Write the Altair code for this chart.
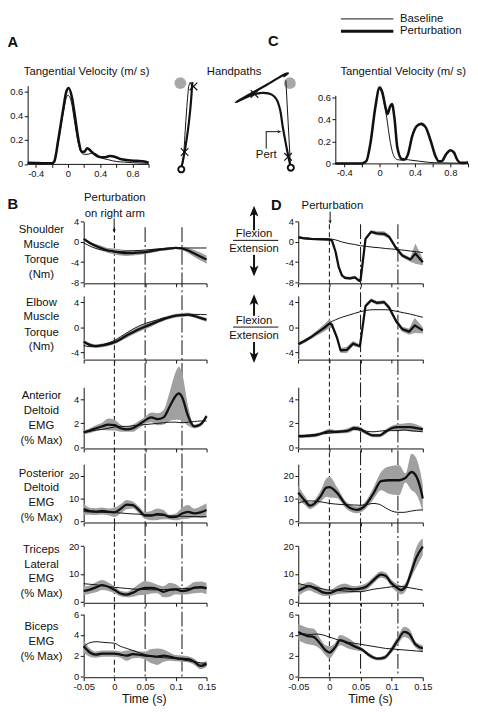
import altair as alt
import pandas as pd

FONT = "Liberation Sans"
INK = "#111111"
BAND = "#a0a0a0"
TARGET = "#a8a8a8"

# ---------------- tangential velocity (m/s) ----------------
VA_T_BASE = [-0.5, -0.2, -0.17, -0.12, -0.06, -0.02, 0.0, 0.04, 0.08, 0.12, 0.16, 0.2, 0.25, 0.3, 0.34, 0.4, 0.5, 0.6, 0.7, 0.8, 1.0]
VA_BASE = [0.005, 0.005, 0.02, 0.18, 0.42, 0.55, 0.57, 0.52, 0.36, 0.2, 0.1, 0.08, 0.08, 0.09, 0.085, 0.055, 0.035, 0.02, 0.015, 0.01, 0.005]
VA_T_PERT = [-0.5, -0.4, -0.3, -0.2, -0.17, -0.12, -0.06, -0.02, 0.01, 0.05, 0.09, 0.13, 0.17, 0.2, 0.24, 0.28, 0.33, 0.38, 0.45, 0.52, 0.58, 0.65, 0.75, 0.85, 0.95, 1.0]
VA_PERT = [0.01, 0.008, 0.005, 0.005, 0.02, 0.2, 0.45, 0.6, 0.63, 0.55, 0.38, 0.2, 0.1, 0.1, 0.13, 0.11, 0.08, 0.06, 0.055, 0.065, 0.06, 0.04, 0.03, 0.025, 0.02, 0.01]

VC_T_BASE = [-0.5, -0.2, -0.15, -0.1, -0.05, 0.0, 0.04, 0.08, 0.12, 0.16, 0.2, 0.25, 0.3, 0.35, 0.45, 0.55, 0.7, 1.0]
VC_BASE = [0.0, 0.0, 0.02, 0.2, 0.5, 0.68, 0.6, 0.42, 0.2, 0.07, 0.035, 0.03, 0.035, 0.03, 0.02, 0.01, 0.005, 0.0]
VC_T_PERT = [-0.5, -0.2, -0.15, -0.1, -0.05, 0.0, 0.03, 0.07, 0.09, 0.12, 0.14, 0.17, 0.2, 0.25, 0.28, 0.32, 0.37, 0.42, 0.47, 0.52, 0.58, 0.63, 0.67, 0.7, 0.75, 0.8, 0.84, 0.88, 0.92, 0.96, 1.0]
VC_PERT = [0.0, 0.0, 0.02, 0.2, 0.5, 0.69, 0.65, 0.5, 0.45, 0.52, 0.54, 0.4, 0.15, 0.04, 0.035, 0.08, 0.25, 0.34, 0.36, 0.33, 0.2, 0.07, 0.02, 0.02, 0.08, 0.12, 0.1, 0.03, 0.005, 0.005, 0.01]

# ---------------- hand paths (cm, start = origin) ----------------
HA_BASE_X = [0.05, 0.16, 0.31, 0.45, 0.61, 0.76, 0.91, 1.14]
HA_BASE_Y = [0.3, 0.68, 2.2, 4.47, 6.74, 8.64, 9.77, 10.08]
HA_PERT_X = [0.03, 0.08, 0.38, 0.76, 1.02, 1.18, 1.25, 1.3]
HA_PERT_Y = [0.3, 0.49, 2.0, 4.47, 6.74, 8.64, 9.77, 10.08]
HA_MARK_X = [0.38, 1.41]
HA_MARK_Y = [2.0, 9.58]
HA_TARGET = [-0.11, 9.97]

HC_BASE_X = [-0.05, -0.57]
HC_BASE_Y = [0.4, 10.1]
HC_PERT_X = [-0.05, -0.11, -0.31, -0.68, -0.95, -1.25, -1.64, -2.2, -3.15, -4.09, -5.05, -6.36, -4.66, -2.77, -0.68, -0.31, -0.87]
HC_PERT_Y = [0.3, 0.49, 1.43, 3.33, 4.84, 6.74, 7.88, 8.44, 8.64, 8.52, 8.18, 7.57, 8.52, 9.58, 10.8, 10.9, 10.52]
HC_MARK_X = [-0.31, -4.2]
HC_MARK_Y = [1.25, 8.52]
HC_TARGET = [-0.11, 9.77]

# ---------------- torques and EMG (time in s) ----------------
T21 = [-0.05, -0.04, -0.03, -0.02, -0.01, 0.0, 0.01, 0.02, 0.03, 0.04, 0.05,
       0.06, 0.07, 0.08, 0.09, 0.10, 0.11, 0.12, 0.13, 0.14, 0.15]
PERT_T = [0.0]
PHASE_T = [0.05, 0.11]
TIME_TICKS = [-0.05, 0.0, 0.05, 0.1, 0.15]

# B: perturbation on right arm
B_SH_M = [0.6, -0.2, -0.8, -1.3, -1.7, -1.9, -2.1, -2.2, -2.2, -2.1, -2.0, -1.8, -1.6, -1.45, -1.3, -1.2, -1.3, -1.7, -2.3, -2.9, -3.5]
B_SH_W = [0.3, 0.3, 0.4, 0.5, 0.5, 0.6, 0.6, 0.6, 0.5, 0.5, 0.4, 0.4, 0.3, 0.3, 0.3, 0.2, 0.3, 0.5, 0.7, 0.8, 0.8]
B_SH_B = [-0.2, -0.8, -1.3, -1.6, -1.8, -1.9, -1.9, -1.8, -1.75, -1.7, -1.6, -1.5, -1.4, -1.35, -1.3, -1.25, -1.2, -1.2, -1.2, -1.2, -1.2]

B_EL_M = [-2.3, -2.8, -3.0, -2.9, -2.7, -2.4, -1.9, -1.3, -0.8, -0.3, 0.1, 0.5, 0.9, 1.3, 1.6, 1.85, 1.95, 2.0, 1.8, 1.5, 1.2]
B_EL_W = [0.3, 0.3, 0.3, 0.3, 0.3, 0.3, 0.3, 0.4, 0.4, 0.4, 0.4, 0.4, 0.3, 0.3, 0.3, 0.3, 0.3, 0.3, 0.3, 0.3, 0.3]
B_EL_B = [-2.9, -3.1, -3.0, -2.8, -2.5, -2.1, -1.5, -0.9, -0.3, 0.2, 0.6, 0.9, 1.2, 1.5, 1.7, 1.85, 1.95, 2.0, 2.05, 2.05, 2.0]

B_AD_T = [-0.05, -0.04, -0.03, -0.02, -0.01, 0.0, 0.01, 0.02, 0.03, 0.04, 0.05, 0.06, 0.07, 0.08, 0.09, 0.10, 0.105, 0.11, 0.12, 0.13, 0.14, 0.15]
B_AD_M = [1.25, 1.4, 1.6, 1.75, 1.9, 1.85, 1.6, 1.5, 1.6, 1.9, 2.25, 2.5, 2.35, 2.5, 3.4, 4.3, 4.5, 4.2, 2.6, 1.75, 1.9, 2.6]
B_AD_W = [0.15, 0.2, 0.25, 0.3, 0.5, 0.45, 0.3, 0.2, 0.3, 0.3, 0.3, 0.4, 0.5, 0.6, 1.2, 2.0, 2.2, 2.0, 0.8, 0.15, 0.15, 0.15]
B_AD_B = [1.3, 1.35, 1.45, 1.5, 1.6, 1.7, 1.75, 1.75, 1.8, 1.85, 1.9, 1.95, 2.0, 2.05, 2.1, 2.1, 2.05, 2.1, 2.15, 2.2, 2.2]

B_PD_M = [5.4, 4.5, 4.3, 4.6, 4.2, 4.0, 5.5, 7.4, 7.2, 5.0, 2.6, 2.6, 3.2, 3.0, 1.9, 2.0, 3.5, 4.2, 3.6, 4.0, 5.0]
B_PD_W = [2.5, 1.5, 1.5, 1.5, 1.5, 2.0, 2.0, 2.0, 1.5, 1.5, 1.5, 2.0, 2.5, 2.0, 1.0, 1.5, 2.5, 3.0, 2.0, 2.5, 3.0]
B_PD_B = [4.3, 4.2, 4.1, 4.0, 4.0, 3.9, 3.7, 3.5, 3.3, 3.2, 3.0, 2.9, 2.8, 2.7, 2.5, 2.4, 2.3, 2.2, 2.2, 2.1, 2.1]

B_TL_M = [3.9, 4.4, 5.2, 6.0, 5.4, 4.3, 3.0, 2.6, 3.3, 4.4, 5.0, 5.0, 4.6, 3.6, 4.3, 4.5, 3.8, 4.2, 5.1, 5.3, 4.8]
B_TL_W = [1.5, 1.5, 1.8, 1.8, 1.5, 1.2, 1.0, 1.0, 1.5, 2.0, 2.5, 2.0, 1.5, 2.0, 2.5, 1.8, 1.2, 1.5, 2.0, 2.0, 2.0]
B_TL_B = [6.5, 6.3, 6.1, 5.8, 5.5, 5.2, 5.0, 4.8, 4.6, 4.5, 4.4, 4.3, 4.3, 4.4, 4.5, 4.6, 4.7, 4.8, 4.9, 5.0, 5.0]

B_BI_M = [2.9, 2.3, 2.1, 2.2, 2.2, 2.2, 2.1, 2.0, 2.15, 2.1, 2.0, 1.95, 1.9, 2.0, 1.9, 1.75, 1.7, 1.65, 1.4, 1.0, 1.2]
B_BI_W = [0.6, 0.4, 0.3, 0.3, 0.3, 0.3, 0.3, 0.5, 0.4, 0.3, 0.4, 0.7, 0.8, 0.6, 0.4, 0.3, 0.3, 0.3, 0.3, 0.3, 0.3]
B_BI_B = [2.9, 3.25, 3.35, 3.3, 3.25, 3.2, 2.9, 2.7, 2.5, 2.3, 2.1, 1.95, 1.85, 1.8, 1.75, 1.7, 1.6, 1.5, 1.4, 1.3, 1.25]

# D: perturbation
D_SH_T = [-0.05, -0.04, -0.03, -0.02, -0.01, 0.0, 0.004, 0.01, 0.015, 0.02, 0.025, 0.033, 0.041, 0.048, 0.05, 0.058, 0.067, 0.076, 0.088, 0.096, 0.107, 0.117, 0.13, 0.138, 0.15]
D_SH_M = [0.9, 0.7, 0.6, 0.55, 0.5, 0.45, 0.3, -2.0, -5.0, -6.6, -7.1, -7.2, -7.0, -7.7, -7.6, 0.6, 2.0, 1.7, 1.6, 1.0, -1.2, -2.7, -3.5, -2.3, -4.0]
D_SH_W = [0.2, 0.2, 0.2, 0.2, 0.2, 0.2, 0.2, 0.3, 0.3, 0.3, 0.3, 0.3, 0.3, 0.3, 0.3, 0.3, 0.3, 0.4, 0.5, 0.4, 0.4, 0.4, 0.4, 2.0, 0.6]
D_SH_B = [1.0, 0.8, 0.7, 0.65, 0.65, 0.6, 0.4, 0.0, -0.3, -0.5, -0.75, -0.9, -1.05, -1.15, -1.3, -1.4, -1.5, -1.65, -1.8, -1.95, -2.1]

D_EL_T = [-0.05, -0.04, -0.03, -0.02, -0.014, -0.007, 0.0, 0.004, 0.012, 0.018, 0.028, 0.038, 0.046, 0.049, 0.058, 0.067, 0.076, 0.088, 0.096, 0.107, 0.117, 0.128, 0.137, 0.15]
D_EL_M = [-2.7, -2.2, -1.6, -0.9, -0.5, 0.0, 0.6, 0.4, -1.6, -3.7, -3.6, -2.6, -2.9, -3.0, 3.4, 4.3, 3.9, 4.0, 3.1, 1.0, -0.3, -0.7, 0.3, -0.5]
D_EL_W = [0.3, 0.3, 0.3, 0.4, 0.5, 0.6, 0.7, 0.5, 0.4, 0.4, 0.5, 0.4, 0.3, 0.3, 0.3, 0.3, 0.3, 0.3, 0.4, 0.4, 0.4, 0.5, 1.2, 0.5]
D_EL_B = [-2.6, -2.1, -1.6, -0.9, -0.1, 0.7, 1.2, 1.6, 1.9, 2.2, 2.5, 2.7, 2.8, 2.8, 2.8, 2.7, 2.5, 2.3, 2.1, 1.85, 1.6]

D_AD_M = [0.93, 0.95, 0.98, 1.05, 1.2, 1.33, 1.3, 1.33, 1.4, 1.6, 1.5, 1.2, 1.0, 1.0, 1.3, 1.6, 1.7, 1.7, 1.68, 1.6, 1.5]
D_AD_W = [0.15, 0.15, 0.15, 0.15, 0.15, 0.2, 0.15, 0.15, 0.2, 0.2, 0.2, 0.15, 0.15, 0.15, 0.2, 0.2, 0.25, 0.3, 0.35, 0.3, 0.2]
D_AD_B = [1.0, 1.0, 1.05, 1.1, 1.15, 1.2, 1.25, 1.3, 1.4, 1.5, 1.45, 1.35, 1.3, 1.35, 1.4, 1.4, 1.4, 1.45, 1.4, 1.35, 1.3]

D_PD_T = [-0.05, -0.04, -0.031, -0.025, -0.014, -0.005, 0.0, 0.012, 0.028, 0.044, 0.054, 0.07, 0.083, 0.096, 0.112, 0.122, 0.132, 0.138, 0.146, 0.15]
D_PD_M = [12.6, 9.3, 6.9, 7.6, 11.1, 14.8, 15.0, 12.6, 6.9, 5.1, 6.1, 11.9, 17.6, 18.0, 18.0, 19.0, 21.6, 20.4, 14.7, 10.0]
D_PD_W = [3.0, 2.0, 1.5, 1.5, 2.5, 4.0, 4.5, 2.5, 1.5, 1.5, 1.5, 2.5, 4.0, 6.0, 6.5, 2.0, 8.0, 8.0, 7.0, 6.0]
D_PD_B = [8.0, 8.8, 9.0, 8.8, 8.4, 7.9, 7.6, 7.4, 7.3, 7.2, 7.1, 7.4, 7.9, 7.5, 6.0, 4.6, 4.0, 4.0, 4.5, 4.9, 5.1]

D_TL_T = [-0.05, -0.04, -0.033, -0.02, -0.009, 0.0, 0.012, 0.025, 0.038, 0.049, 0.06, 0.07, 0.083, 0.091, 0.099, 0.11, 0.115, 0.123, 0.131, 0.139, 0.15]
D_TL_M = [4.0, 5.1, 5.6, 4.5, 3.3, 3.1, 4.2, 4.8, 4.5, 4.7, 5.6, 7.6, 9.8, 9.2, 6.8, 4.8, 4.2, 5.6, 10.4, 15.6, 19.8]
D_TL_W = [2.0, 1.5, 1.5, 1.5, 1.2, 1.0, 1.5, 1.8, 1.2, 1.2, 1.2, 1.2, 1.2, 1.2, 1.2, 1.5, 1.5, 1.5, 2.0, 3.5, 3.0]
D_TL_B = [6.6, 6.0, 5.6, 5.1, 4.6, 4.2, 4.1, 3.95, 3.8, 3.7, 3.6, 4.0, 4.5, 4.8, 5.1, 5.4, 5.6, 5.4, 5.0, 4.6, 4.2]

D_BI_T = [-0.05, -0.035, -0.025, -0.014, -0.006, 0.0, 0.009, 0.017, 0.03, 0.044, 0.052, 0.065, 0.078, 0.088, 0.099, 0.11, 0.12, 0.128, 0.138, 0.15]
D_BI_M = [4.3, 3.9, 3.8, 3.1, 2.5, 2.3, 2.8, 3.5, 3.2, 2.8, 2.6, 2.0, 1.7, 1.8, 2.5, 3.5, 4.3, 4.1, 3.1, 2.7]
D_BI_W = [0.8, 0.8, 0.8, 0.5, 0.5, 0.6, 0.4, 0.5, 0.5, 0.3, 0.2, 0.2, 0.15, 0.2, 0.3, 0.4, 0.5, 0.5, 0.3, 0.3]
D_BI_B = [4.0, 4.1, 4.05, 4.1, 4.0, 3.8, 3.6, 3.4, 3.3, 3.2, 3.1, 3.0, 2.9, 2.8, 2.7, 2.65, 2.6, 2.55, 2.5, 2.45, 2.4]

ROW_LABELS = [["Shoulder", "Muscle", "Torque", "(Nm)"],
              ["Elbow", "Muscle", "Torque", "(Nm)"],
              ["Anterior", "Deltoid", "EMG", "(% Max)"],
              ["Posterior", "Deltoid", "EMG", "(% Max)"],
              ["Triceps", "Lateral", "EMG", "(% Max)"],
              ["Biceps", "EMG", "(% Max)"]]

# ---------------- layout (reference pixels) ----------------
W, H = 470, 705
OX = OY = 8


def X(v):
    return v - OX


def Y(v):
    return v - OY


ROWS = [
    dict(domain=[-8, 4], ticks=[-8, -4, 0, 4], yb=281, yt=219.3, lab=[227.7, 242.7, 258.3, 273.3]),
    dict(domain=[-5, 5], ticks=[-4, 0, 4], yb=358.6, yt=294.8, lab=[301.7, 316.7, 332.3, 347.3]),
    dict(domain=[0, 5], ticks=[0, 2, 4], yb=449, yt=387.7, lab=[396.7, 411.7, 427.3, 442.3]),
    dict(domain=[0, 25], ticks=[0, 10, 20], yb=524.3, yt=466, lab=[475.7, 490.7, 506, 521]),
    dict(domain=[0, 20], ticks=[0, 10, 20], yb=606, yt=549.3, lab=[553.3, 568.3, 583.3, 598.3]),
    dict(domain=[0, 6], ticks=[0, 2, 4, 6], yb=681.7, yt=618.8, lab=[631.7, 646.7, 661.7]),
]
COL_B = (85, 210)
COL_D = (303.3, 430)

LABEL = "replace(format(datum.value, '~g'), '\u2212', '-')"
ONE = pd.DataFrame({"k": [0]})


def axis_x(ypos, values, labels=True, expr=LABEL):
    return alt.Axis(orient="bottom", offset=Y(ypos) - H, values=values, labels=labels,
                    labelExpr=expr, title=None, tickSize=3.5, labelPadding=1,
                    labelFlush=False, labelOverlap=False)


def axis_y(xpos, values):
    return alt.Axis(orient="left", offset=-X(xpos), values=values, labelExpr=LABEL,
                    title=None, tickSize=3.5, labelPadding=1.5, labelFlush=False, labelOverlap=False)


def time_panel(t, m, w, b, row, col, bottom, interp="monotone"):
    xs = alt.Scale(domain=[-0.05, 0.15], range=[X(col[0]), X(col[1])], nice=False, zero=False)
    ys = alt.Scale(domain=row["domain"], range=[Y(row["yb"]), Y(row["yt"])], nice=False, zero=False)
    ex = alt.X("t:Q", scale=xs, axis=axis_x(row["yb"] + 1, TIME_TICKS, labels=bottom))
    ay = axis_y(col[0], row["ticks"])
    dm = pd.DataFrame({"t": t, "m": m,
                       "lo": [a - c for a, c in zip(m, w)],
                       "hi": [a + c for a, c in zip(m, w)]})
    db = pd.DataFrame({"t": T21, "b": b})
    band = alt.Chart(dm).mark_area(color=BAND, opacity=1, interpolate=interp).encode(
        x=ex, y=alt.Y("lo:Q", scale=ys, axis=ay), y2="hi:Q")
    thin = alt.Chart(db).mark_line(color=INK, strokeWidth=1, interpolate="monotone").encode(
        x=ex, y=alt.Y("b:Q", scale=ys, axis=ay))
    thick = alt.Chart(dm).mark_line(color=INK, strokeWidth=2.3, interpolate=interp,
                                    strokeJoin="round").encode(
        x=ex, y=alt.Y("m:Q", scale=ys, axis=ay))
    return alt.layer(band, thin, thick)


def vel_panel(tb, vb, tp, vp, xr, yr, ydom):
    xs = alt.Scale(domain=[-0.5, 1.0], range=[X(xr[0]), X(xr[1])], nice=False, zero=False)
    ys = alt.Scale(domain=ydom, range=[Y(yr[0]), Y(yr[1])], nice=False, zero=False)
    expr = ("indexof([-0.4, 0, 0.4, 0.8], datum.value) >= 0 ? " + LABEL + " : ''")
    ex = alt.X("t:Q", scale=xs, axis=axis_x(yr[0], [-0.4, -0.2, 0, 0.2, 0.4, 0.6, 0.8, 1.0], expr=expr))
    ay = axis_y(xr[0], [0, 0.2, 0.4, 0.6])
    thin = alt.Chart(pd.DataFrame({"t": tb, "v": vb})).mark_line(
        color=INK, strokeWidth=1, interpolate="monotone").encode(x=ex, y=alt.Y("v:Q", scale=ys, axis=ay))
    thick = alt.Chart(pd.DataFrame({"t": tp, "v": vp})).mark_line(
        color=INK, strokeWidth=2.6, interpolate="monotone").encode(x=ex, y=alt.Y("v:Q", scale=ys, axis=ay))
    return alt.layer(thin, thick)


XSHAPE = "M-1,-1L1,1M-1,1L1,-1"


def handpath(bx, by, px_, py_, mx, my, target, xdom, ydom, xr, yr):
    xs = alt.Scale(domain=xdom, range=[X(xr[0]), X(xr[1])], nice=False, zero=False)
    ys = alt.Scale(domain=ydom, range=[Y(yr[0]), Y(yr[1])], nice=False, zero=False)
    ex = alt.X("x:Q", scale=xs, axis=None)
    ey = alt.Y("y:Q", scale=ys, axis=None)
    tgt = alt.Chart(pd.DataFrame({"x": [target[0]], "y": [target[1]]})).mark_point(
        shape="circle", filled=True, color=TARGET, size=145, opacity=1, strokeWidth=0).encode(x=ex, y=ey)
    thin = alt.Chart(pd.DataFrame({"x": bx, "y": by, "i": list(range(len(bx)))})).mark_line(
        color=INK, strokeWidth=1, interpolate="catmull-rom").encode(x=ex, y=ey, order="i:Q")
    thick = alt.Chart(pd.DataFrame({"x": px_, "y": py_, "i": list(range(len(px_)))})).mark_line(
        color=INK, strokeWidth=2.2, interpolate="catmull-rom", strokeJoin="round").encode(x=ex, y=ey, order="i:Q")
    marks = alt.Chart(pd.DataFrame({"x": mx, "y": my})).mark_point(
        shape=XSHAPE, filled=False, color=INK, size=60, strokeWidth=1.2, opacity=1).encode(x=ex, y=ey)
    start = alt.Chart(pd.DataFrame({"x": [0.0], "y": [0.0]})).mark_point(
        shape="circle", filled=False, color=INK, size=38, strokeWidth=2, opacity=1).encode(x=ex, y=ey)
    return alt.layer(tgt, thin, thick, marks, start)


def vlines(col, y0, y1):
    xs = alt.Scale(domain=[-0.05, 0.15], range=[X(col[0]), X(col[1])], nice=False, zero=False)
    a = alt.Chart(pd.DataFrame({"t": PERT_T})).mark_rule(color="#222222", strokeWidth=1.1, strokeDash=[5, 3]).encode(
        x=alt.X("t:Q", scale=xs, axis=None), y=alt.value(Y(y0)), y2=alt.value(Y(y1)))
    b = alt.Chart(pd.DataFrame({"t": PHASE_T})).mark_rule(color="#222222", strokeWidth=1.1, strokeDash=[15, 3, 2, 3]).encode(
        x=alt.X("t:Q", scale=xs, axis=None), y=alt.value(Y(y0)), y2=alt.value(Y(y1)))
    return [a, b]


def text(s, x, y, size=11.5, weight="normal", align="center"):
    return alt.Chart(ONE).mark_text(text=s, font=FONT, fontSize=size, fontWeight=weight, align=align,
                                    baseline="middle", color=INK).encode(x=alt.value(X(x)), y=alt.value(Y(y)))


def seg(x1, y1, x2, y2, width=1.0):
    return alt.Chart(ONE).mark_rule(color=INK, strokeWidth=width).encode(
        x=alt.value(X(x1)), y=alt.value(Y(y1)), x2=alt.value(X(x2)), y2=alt.value(Y(y2)))


HEAD_UP = "M0,-1L0.75,0.85L0,0.4L-0.75,0.85Z"
HEAD_DOWN = "M0,1L0.75,-0.85L0,-0.4L-0.75,-0.85Z"
HEAD_RIGHT = "M1,0L-0.85,0.75L-0.4,0L-0.85,-0.75Z"


def head(x, y, shape, size):
    return alt.Chart(ONE).mark_point(shape=shape, filled=True, color=INK, size=size, opacity=1,
                                     strokeWidth=0).encode(x=alt.value(X(x)), y=alt.value(Y(y)))


layers = []

# top row
layers.append(vel_panel(VA_T_BASE, VA_BASE, VA_T_PERT, VA_PERT, (28, 151), (160.5, 80.9), [0, 0.65]))
layers.append(vel_panel(VC_T_BASE, VC_BASE, VC_T_PERT, VC_PERT, (341, 476), (160, 90.7), [0, 0.62]))
layers.append(handpath(HA_BASE_X, HA_BASE_Y, HA_PERT_X, HA_PERT_Y, HA_MARK_X, HA_MARK_Y, HA_TARGET,
                       [-2, 2], [0, 11], (166.7, 201.9), (166, 69.2)))
layers.append(handpath(HC_BASE_X, HC_BASE_Y, HC_PERT_X, HC_PERT_Y, HC_MARK_X, HC_MARK_Y, HC_TARGET,
                       [-7, 1], [0, 11], (234.1, 304.5), (164.3, 67.5)))

# dashed event lines
layers += vlines(COL_B, 225, 682)
layers += vlines(COL_D, 222, 682)

# time panels
B_DATA = [(T21, B_SH_M, B_SH_W, B_SH_B), (T21, B_EL_M, B_EL_W, B_EL_B), (B_AD_T, B_AD_M, B_AD_W, B_AD_B),
          (T21, B_PD_M, B_PD_W, B_PD_B), (T21, B_TL_M, B_TL_W, B_TL_B), (T21, B_BI_M, B_BI_W, B_BI_B)]
D_DATA = [(D_SH_T, D_SH_M, D_SH_W, D_SH_B), (D_EL_T, D_EL_M, D_EL_W, D_EL_B), (T21, D_AD_M, D_AD_W, D_AD_B),
          (D_PD_T, D_PD_M, D_PD_W, D_PD_B), (D_TL_T, D_TL_M, D_TL_W, D_TL_B), (D_BI_T, D_BI_M, D_BI_W, D_BI_B)]
for i, row in enumerate(ROWS):
    bottom = i == len(ROWS) - 1
    t, m, w, b = B_DATA[i]
    layers.append(time_panel(t, m, w, b, row, COL_B, bottom))
    t, m, w, b = D_DATA[i]
    layers.append(time_panel(t, m, w, b, row, COL_D, bottom, interp="linear" if i < 2 else "monotone"))
    for s, yy in zip(ROW_LABELS[i], row["lab"]):
        layers.append(text(s, 42, yy, size=11.5))

# panel letters and titles
layers += [text("A", 13, 36.7, size=15, weight="bold"), text("B", 13, 201.7, size=15, weight="bold"),
           text("C", 278, 35.3, size=15, weight="bold"), text("D", 281, 202, size=15, weight="bold")]
layers += [text("Tangential Velocity (m/ s)", 88, 67), text("Handpaths", 238, 67),
           text("Tangential Velocity (m/ s)", 410, 67)]

# legend
layers += [seg(346.7, 13, 400, 13, 1.0), seg(346.7, 25.5, 400, 25.5, 3.0),
           text("Baseline", 406.7, 13, align="left"), text("Perturbation", 406.7, 25.5, align="left")]

# "Pert" callout
layers += [text("Pert", 270.7, 151.7), seg(270.7, 145, 270.7, 127.7, 1.0), seg(270.2, 127.7, 283, 127.7, 1.0),
           head(284, 127.7, HEAD_RIGHT, 20)]

# perturbation markers
layers += [text("Perturbation", 116.7, 195), text("on right arm", 116.7, 211.7),
           seg(116, 216, 116, 228, 1.0), head(116, 228.5, HEAD_DOWN, 20)]
layers += [text("Perturbation", 338, 203.3), seg(335.7, 209, 335.7, 219, 1.0), head(335.7, 219.5, HEAD_DOWN, 20)]

# flexion / extension indicators
for fy, bar, ey, up_tip, up_tail, dn_tail, dn_tip in [(231.7, 238.3, 246.7, 203, 228, 253, 275),
                                                     (320.7, 326.5, 335.7, 293, 315, 341.7, 363)]:
    layers += [text("Flexion", 258.3, fy), seg(237, bar, 283, bar, 1.0), text("Extension", 258.3, ey),
               seg(258.3, up_tip + 6, 258.3, up_tail, 2.0), head(258.3, up_tip + 6, HEAD_UP, 144),
               seg(258.3, dn_tail, 258.3, dn_tip - 6, 2.0), head(258.3, dn_tip - 6, HEAD_DOWN, 144)]

# time axis titles
layers += [text("Time (s)", 146.7, 705, size=12.5), text("Time (s)", 376.7, 705, size=12.5)]

chart = alt.layer(*layers).resolve_scale(x="independent", y="independent").resolve_axis(
    x="independent", y="independent").properties(
    width=W, height=H, autosize=alt.AutoSizeParams(type="none"), padding=0
).configure_view(stroke=None).configure_axis(
    domainColor=INK, tickColor=INK, labelColor=INK, labelFont=FONT, labelFontSize=9.5,
    domainWidth=1, tickWidth=1, grid=False)

chart.save("out.html", embed_options={"renderer": "svg", "actions": False})
